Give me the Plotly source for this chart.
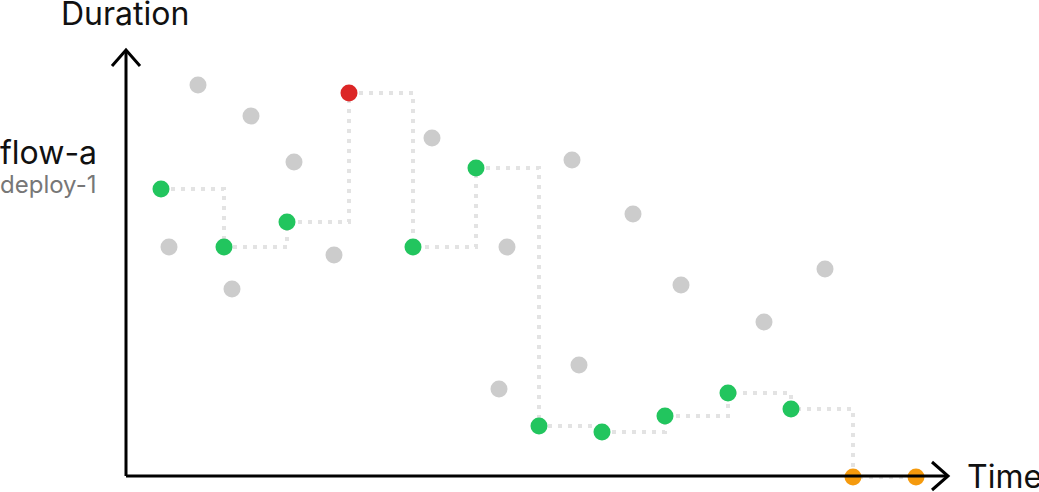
import plotly.graph_objects as go

# Background (other runs) points
gray_time = [72, 125, 168, 43, 106, 208, 306, 381, 446, 507, 555, 373, 453, 638, 699]
gray_dur = [391, 360, 314, 229, 187, 221, 338, 229, 316, 262, 191, 87, 111, 154, 207]

# Highlighted run sequence
run_time = [35, 98, 161, 223, 287, 350, 413, 476, 539, 602, 665, 727, 790]
run_dur = [287, 229, 254, 383, 229, 308, 50, 44, 60, 83, 67, -1, -1]
run_state = ["ok", "ok", "ok", "fail", "ok", "ok", "ok", "ok", "ok", "ok", "ok", "pending", "pending"]

state_colors = {"ok": "#22c55e", "fail": "#dc2626", "pending": "#f59a0d"}

fig = go.Figure()
fig.add_trace(go.Scatter(x=gray_time, y=gray_dur, mode="markers",
                         marker=dict(size=17, color="#cccccc"), hoverinfo="skip",
                         cliponaxis=False))
fig.add_trace(go.Scatter(x=run_time, y=run_dur, mode="lines",
                         line=dict(shape="hv", color="#e3e3e3", width=4, dash="4px,6px"),
                         hoverinfo="skip", cliponaxis=False))
fig.add_trace(go.Scatter(x=run_time, y=run_dur, mode="markers",
                         marker=dict(size=17, color=[state_colors[s] for s in run_state]),
                         cliponaxis=False))

axis_color = "#000000"
shapes = [
    dict(type="line", x0=0, y0=0, x1=0, y1=426, line=dict(color=axis_color, width=3)),
    dict(type="line", x0=0, y0=0, x1=822, y1=0, line=dict(color=axis_color, width=3)),
    dict(type="path", path="M -14 410 L 0 426 L 14 410", line=dict(color=axis_color, width=3)),
    dict(type="path", path="M 806 14 L 822 0 L 806 -14", line=dict(color=axis_color, width=3)),
]

annotations = [
    dict(x=-1, y=463, text="Duration", showarrow=False, xanchor="center", yanchor="middle",
         font=dict(size=32, color="#111111")),
    dict(x=839, y=0, text="Time", showarrow=False, xanchor="left", yanchor="middle",
         font=dict(size=32, color="#111111")),
    dict(x=-0.002, xref="paper", y=324, text="flow-a", showarrow=False, xanchor="left",
         yanchor="middle", font=dict(size=32, color="#111111")),
    dict(x=-0.002, xref="paper", y=292, text="deploy-1", showarrow=False, xanchor="left",
         yanchor="middle", font=dict(size=24, color="#777777")),
]

fig.update_layout(
    width=1039, height=492,
    margin=dict(l=0, r=0, t=0, b=0),
    paper_bgcolor="white", plot_bgcolor="white",
    showlegend=False,
    font=dict(family="Inter, sans-serif"),
    xaxis=dict(range=[-126, 913], visible=False, fixedrange=True),
    yaxis=dict(range=[-16, 476], visible=False, fixedrange=True),
    shapes=shapes,
    annotations=annotations,
)

fig.write_html("out.html", config={"displayModeBar": False},
               post_script="document.body.style.margin='0';document.body.style.overflow='hidden';")
